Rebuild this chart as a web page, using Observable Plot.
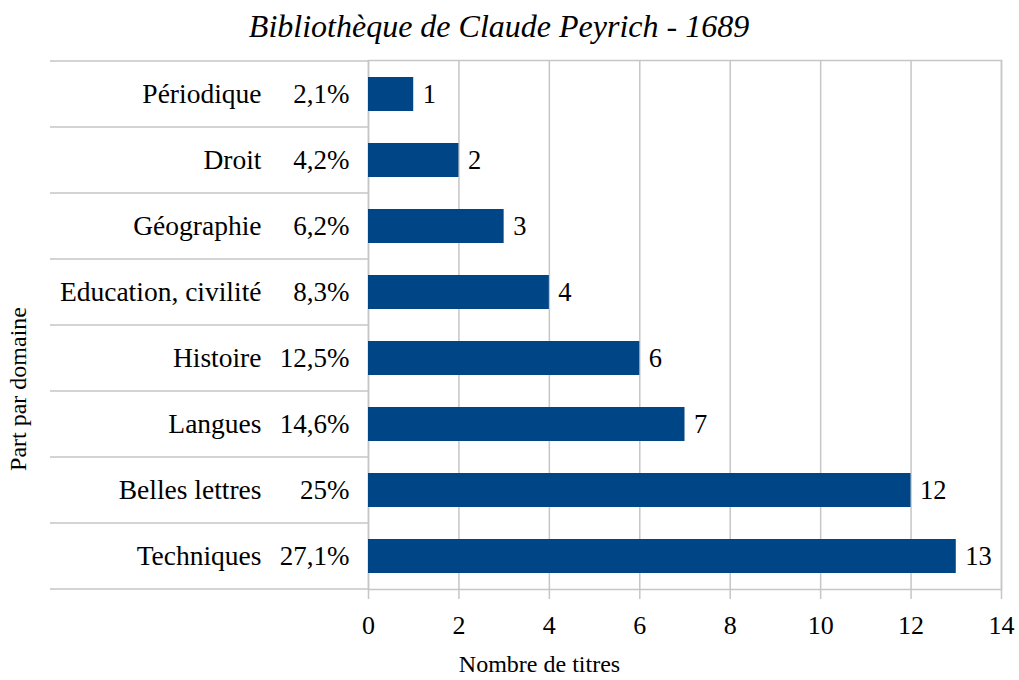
<!DOCTYPE html>
<html>
<head>
<meta charset="utf-8">
<script src="https://cdn.jsdelivr.net/npm/d3@7"></script>
<script src="https://cdn.jsdelivr.net/npm/@observablehq/plot@0.6"></script>
<style>
  html, body { margin: 0; padding: 0; background: #fff; }
  #title {
    width: 998px; height: 50px; box-sizing: border-box; padding-top: 8px;
    font-family: "Liberation Serif", serif; font-style: italic; font-size: 32px;
    line-height: 36px; text-align: center; color: #000;
  }
  #chart svg, #chart svg text { font-family: "Liberation Serif", serif !important; }
</style>
</head>
<body>
<div id="title">Bibliothèque de Claude Peyrich - 1689</div>
<div id="chart"></div>
<script>
const categories = ["Périodique", "Droit", "Géographie", "Education, civilité", "Histoire", "Langues", "Belles lettres", "Techniques"];
const counts = [1, 2, 3, 4, 6, 7, 12, 13];
const percents = [2.1, 4.2, 6.2, 8.3, 12.5, 14.6, 25, 27.1];
const xTicks = [0, 2, 4, 6, 8, 10, 12, 14];
const xLabel = "Nombre de titres";
const yLabel = "Part par domaine";

const data = categories.map((c, i) => ({cat: c, n: counts[i], pct: String(percents[i]).replace(".", ",") + "%"}));

const gray = "#c6c6c6";
const marginLeft = 368;
const serif = "Liberation Serif";

const plot = Plot.plot({
  width: 1019,
  height: 630,
  marginLeft,
  marginRight: 18,
  marginTop: 10,
  marginBottom: 91,
  style: {fontFamily: serif, fontSize: "26px", color: "#000", background: "#fff", overflow: "visible"},
  x: {domain: [0, 14], axis: null},
  y: {domain: categories, axis: null, paddingInner: 0.49, paddingOuter: 0.245},
  marks: [
    Plot.gridX(xTicks, {stroke: gray, strokeOpacity: 1, strokeWidth: 1.5}),
    Plot.frame({stroke: gray, strokeWidth: 1.5}),
    Plot.axisX({ticks: xTicks, tickSize: 10, tickPadding: 16, stroke: gray, strokeWidth: 1.5, fill: "#000", label: null, fontSize: 26, fontFamily: serif}),
    Plot.barX(data, {x: "n", y: "cat", fill: "#004586"}),
    Plot.text(data, {x: "n", y: "cat", text: d => String(d.n), dx: 9, textAnchor: "start", fontSize: 26.5, fontFamily: serif, fill: "#000"}),
    Plot.text(data, {y: "cat", text: "cat", frameAnchor: "left", textAnchor: "end", dx: -107, fontSize: 27.5, fontFamily: serif, fill: "#000"}),
    Plot.text(data, {y: "cat", text: "pct", frameAnchor: "left", textAnchor: "end", dx: -19, fontSize: 27, fontFamily: serif, fill: "#000"}),
    Plot.text([xLabel], {text: d => d, frameAnchor: "bottom-left", dx: 171, dy: 82, textAnchor: "middle", fontSize: 24, fontFamily: serif, fill: "#000"}),
    Plot.text([yLabel], {text: d => d, frameAnchor: "left", rotate: -90, dx: -350, dy: 64, textAnchor: "middle", fontSize: 24, fontFamily: serif, fill: "#000"})
  ]
});

// category separators in the left label area, from the band scale
const ys = plot.scale("y");
const half = (ys.step - ys.bandwidth) / 2;
const bounds = categories.map(c => ys.apply(c) - half);
bounds.push(ys.apply(categories[categories.length - 1]) + ys.bandwidth + half);
d3.select(plot).append("g")
  .attr("stroke", gray).attr("stroke-width", 1.5)
  .selectAll("line").data(bounds).join("line")
  .attr("x1", marginLeft - 318).attr("x2", marginLeft)
  .attr("y1", d => d).attr("y2", d => d);

document.getElementById("chart").appendChild(plot);
</script>
</body>
</html>
